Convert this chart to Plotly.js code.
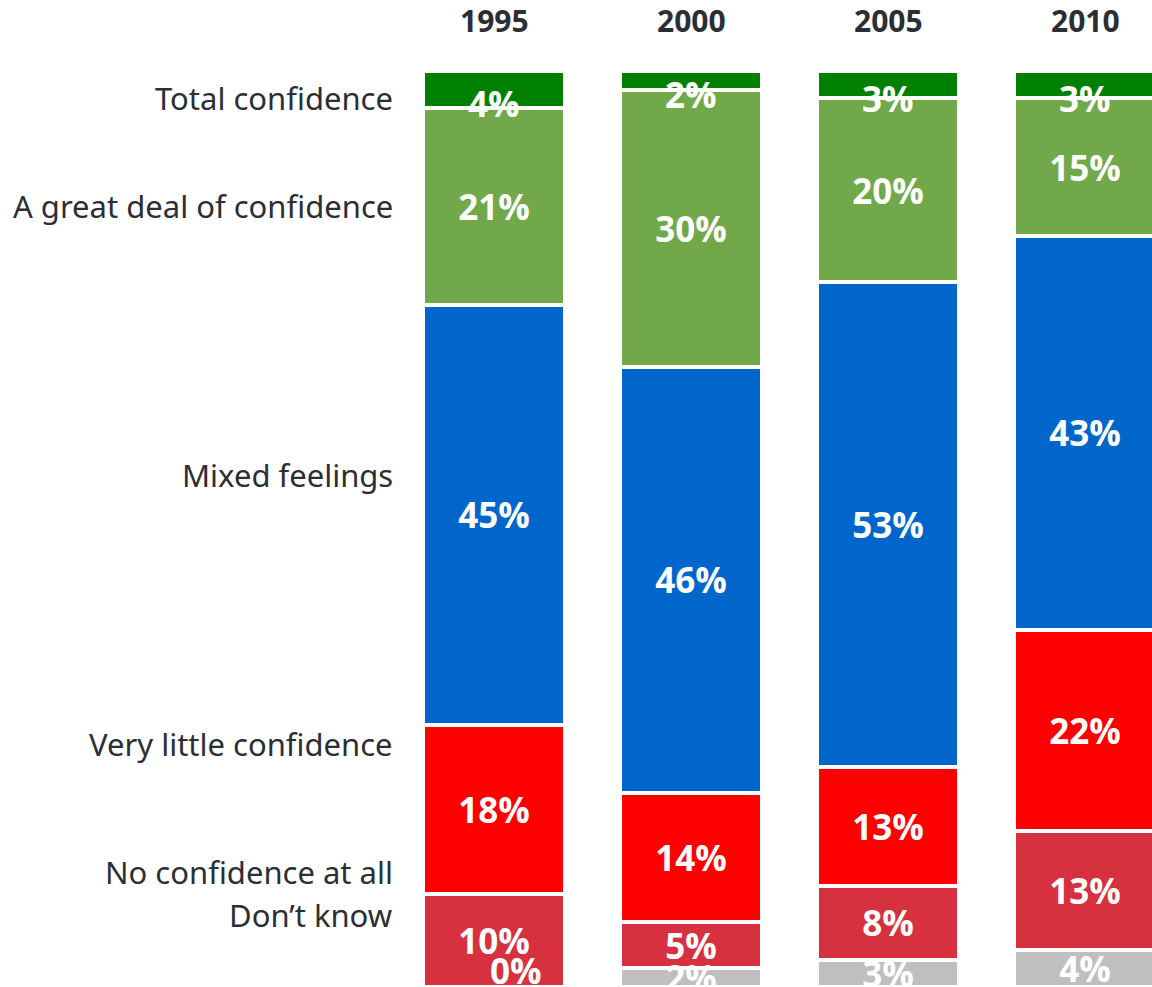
<!DOCTYPE html>
<html>
<head>
<meta charset="utf-8">
<script src="https://cdn.plot.ly/plotly-3.0.1.min.js"></script>
<style>html,body{margin:0;padding:0;background:#fff;}#chart{width:1152px;height:987px;}</style>
</head>
<body>
<div id="chart"></div>
<script>
// ---- data ----
const years = ["1995", "2000", "2005", "2010"];
const categories = ["Total confidence", "A great deal of confidence", "Mixed feelings",
                    "Very little confidence", "No confidence at all", "Don\u2019t know"];
const totalConfidence = [4, 2, 3, 3];
const greatDeal       = [21, 30, 20, 15];
const mixedFeelings   = [45, 46, 53, 43];
const veryLittle      = [18, 14, 13, 22];
const noConfidence    = [10, 5, 8, 13];
const dontKnow        = [0, 2, 3, 4];

const seriesValues = [totalConfidence, greatDeal, mixedFeelings, veryLittle, noConfidence, dontKnow];
const colors = ["#008000", "#70A84A", "#0066CC", "#FF0000", "#D7303F", "#BFBFBF"];

// ---- style ----
const labelY = [3.0, 14.7, 44.1, 73.5, 87.4, 92.1];   // category label placement along the axis
const valueFont = {family: "Open Sans", size: 35, color: "#FFFFFF", weight: "bold"};

const totals = years.map((_, k) => seriesValues.reduce((s, vals) => s + vals[k], 0));

const traces = seriesValues.map((vals, i) => ({
  type: "bar",
  name: categories[i],
  x: years.map((_, k) => k),
  y: vals,
  text: vals.map(v => v + "%"),
  textposition: i === 0 ? "none" : "inside",
  insidetextanchor: "middle",
  constraintext: "none",
  textangle: 0,
  textfont: valueFont,
  marker: {color: colors[i], line: {color: "#FFFFFF", width: 4}},
  hoverinfo: "none",
  cliponaxis: false
}));

const annotations = [];
categories.forEach((c, i) => {
  annotations.push({
    text: c, xref: "paper", yref: "y", x: 395 / 1152, y: labelY[i],
    xanchor: "right", yanchor: "middle", showarrow: false,
    font: {family: "Noto Sans", size: 31, color: "#2B2E34"}
  });
});
years.forEach((yr, k) => {
  annotations.push({
    text: "<b>" + yr + "</b>", xref: "x", yref: "paper", x: k, y: 1, yshift: 51,
    xanchor: "center", yanchor: "middle", showarrow: false,
    font: {family: "Open Sans", size: 30, color: "#2B2E34"}
  });
});
// labels of the thin top segments sit a little lower, spilling into the next segment
years.forEach((yr, k) => {
  const mid = (totalConfidence[k] / 2) / totals[k] * 100;
  annotations.push({
    text: "<b>" + totalConfidence[k] + "%</b>", xref: "x", yref: "y", x: k, y: mid, yshift: -14,
    xanchor: "center", yanchor: "middle", showarrow: false, font: valueFont
  });
});
// zero-height segments get their label as an annotation at the stacked position
years.forEach((yr, k) => {
  let cum = 0;
  seriesValues.forEach((vals, i) => {
    cum += vals[k];
    if (vals[k] === 0) {
      annotations.push({
        text: "<b>0%</b>", xref: "x", yref: "y", x: k, y: cum / totals[k] * 100,
        xshift: 22, yshift: 17,
        xanchor: "center", yanchor: "middle", showarrow: false, font: valueFont
      });
    }
  });
});

const layout = {
  width: 1152, height: 987,
  margin: {l: 0, r: 0, t: 71, b: 0, pad: 0},
  paper_bgcolor: "#FFFFFF", plot_bgcolor: "#FFFFFF",
  barmode: "stack",
  barnorm: "percent",
  bargap: 0.28,
  showlegend: false,
  xaxis: {type: "linear", range: [-2.508, 3.34], showticklabels: false,
          showgrid: false, zeroline: false, showline: false, ticks: "", fixedrange: true},
  yaxis: {range: [100, 0], showticklabels: false, showgrid: false, zeroline: false,
          showline: false, ticks: "", fixedrange: true},
  annotations: annotations
};

Plotly.newPlot("chart", traces, layout, {staticPlot: true, displayModeBar: false});
</script>
</body>
</html>
